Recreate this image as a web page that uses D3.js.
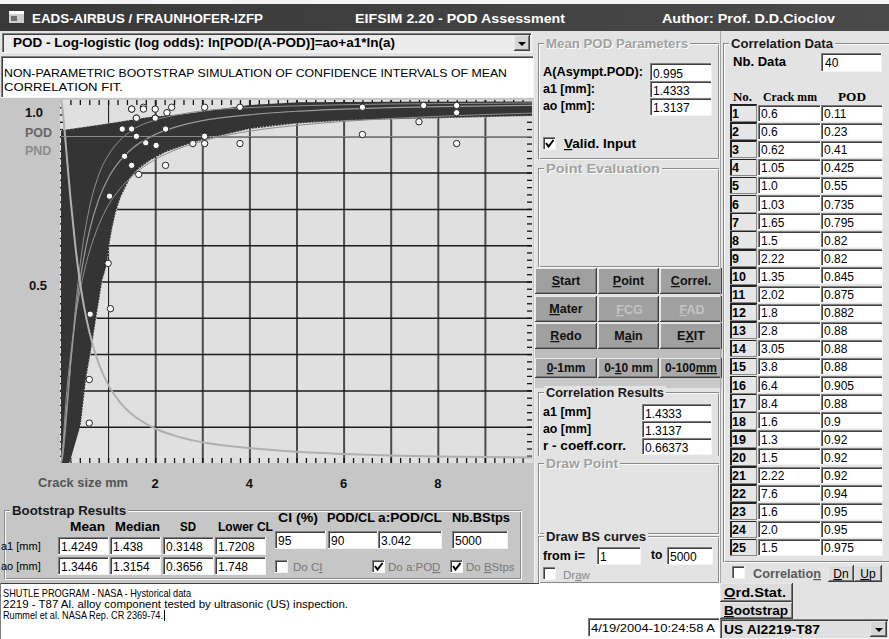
<!DOCTYPE html>
<html><head><meta charset="utf-8">
<script src="https://cdn.jsdelivr.net/npm/d3@7"></script>
<style>body{margin:0;background:#e3e3e3;} svg{display:block;}</style>
</head><body>
<svg id="c" width="889" height="639"></svg>
<script>
// ---------------- DATA ----------------
const crackMM = [0.6,0.6,0.62,1.05,1.0,1.03,1.65,1.5,2.22,1.35,2.02,1.8,2.8,3.05,3.8,6.4,8.4,1.6,1.3,1.5,2.22,7.6,1.6,2.0,1.5,
                 1.75,1.75,2.0,2.25,2.35,3.05,3.8,3.05,6.4,7.7,8.4,8.4,1.5,1.6,2.0];
const podObs  = [0.11,0.23,0.41,0.425,0.55,0.735,0.795,0.82,0.82,0.845,0.875,0.882,0.88,0.88,0.88,0.905,0.88,0.9,0.92,0.92,0.92,0.94,0.95,0.95,0.975,
                 0.98,0.975,0.975,0.965,0.98,0.98,0.98,0.9,0.98,0.985,0.985,0.965,0.975,0.95,0.95];
const crackTxt = ["0.6","0.6","0.62","1.05","1.0","1.03","1.65","1.5","2.22","1.35","2.02","1.8","2.8","3.05","3.8","6.4","8.4","1.6","1.3","1.5","2.22","7.6","1.6","2.0","1.5"];
const podTxt   = ["0.11","0.23","0.41","0.425","0.55","0.735","0.795","0.82","0.82","0.845","0.875","0.882","0.88","0.88","0.88","0.905","0.88","0.9","0.92","0.92","0.92","0.94","0.95","0.95","0.975"];

// bootstrap band envelope
const bandUpperA   = [0, 0.45, 1.17, 1.87, 2.57, 2.94, 4.0, 5.06, 7.0, 10];
const bandUpperPOD = [0.917, 0.925, 0.939, 0.953, 0.961, 0.967, 0.986, 0.994, 0.995, 0.996];
const bandLowerA   = [0.18, 0.42, 0.53, 0.65, 0.76, 0.88, 0.98, 1.02, 1.08, 1.16, 1.27, 1.45, 1.62, 1.91, 2.23, 2.65, 3.0, 3.5, 4.0, 5.0, 6.0, 7.0, 8.0, 10];
const bandLowerPOD = [0, 0.107, 0.229, 0.32, 0.41, 0.504, 0.551, 0.595, 0.642, 0.689, 0.733, 0.78, 0.807, 0.835, 0.857, 0.876, 0.89, 0.905, 0.92, 0.935, 0.943, 0.947, 0.95, 0.956];

// curves
const curveA     = [0, 0.02, 0.05, 0.1, 0.2, 0.3, 0.4, 0.5, 0.6, 0.8, 1, 1.25, 1.5, 2, 2.5, 3, 4, 5, 6, 7, 8, 10];
const meanPOD    = [0, 0.013, 0.048, 0.120, 0.269, 0.396, 0.500, 0.576, 0.638, 0.726, 0.784, 0.832, 0.865, 0.905, 0.928, 0.943, 0.959, 0.969, 0.975, 0.979, 0.982, 0.985];
const pndPOD     = [1, 0.987, 0.952, 0.880, 0.731, 0.604, 0.500, 0.424, 0.362, 0.274, 0.216, 0.168, 0.135, 0.095, 0.072, 0.057, 0.041, 0.031, 0.025, 0.021, 0.018, 0.015];
const upperCLPOD = [0, 0.005, 0.030, 0.098, 0.263, 0.418, 0.540, 0.632, 0.701, 0.793, 0.847, 0.889, 0.916, 0.945, 0.960, 0.970, 0.979, 0.984, 0.987, 0.989, 0.990, 0.992];
const lowerCLPOD = [0, 0.022, 0.066, 0.163, 0.294, 0.394, 0.471, 0.532, 0.581, 0.655, 0.709, 0.755, 0.789, 0.836, 0.866, 0.887, 0.914, 0.930, 0.941, 0.949, 0.955, 0.964];

const xTickLabels = [2, 4, 6, 8];
const yTickLabels = ["1.0", "0.5"];

// ---------------- HELPERS ----------------
const svg = d3.select("#c");
const FF = "Liberation Sans, Arial, sans-serif";
function R(x,y,w,h,fill,stroke,sw){return svg.append("rect").attr("x",x).attr("y",y).attr("width",w).attr("height",h)
  .attr("fill",fill||"none").attr("stroke",stroke||"none").attr("stroke-width",sw||1).attr("shape-rendering","crispEdges");}
function L(x1,y1,x2,y2,c,sw){return svg.append("line").attr("x1",x1).attr("y1",y1).attr("x2",x2).attr("y2",y2)
  .attr("stroke",c).attr("stroke-width",sw||1).attr("shape-rendering","crispEdges");}
function T(x,y,s,o){o=o||{};
  const t=svg.append("text").attr("x",x).attr("y",y).attr("font-family",o.ff||FF).attr("font-size",o.fs||12)
   .attr("font-weight",o.fw||"normal").attr("fill",o.fill||"#000");
  if(o.anchor) t.attr("text-anchor",o.anchor);
  if(Array.isArray(s)){ s.forEach(p=>{const ts=t.append("tspan").text(p[0]); if(p[1]) ts.attr("text-decoration","underline");}); }
  else t.text(s);
  if(o.len) t.attr("textLength",o.len).attr("lengthAdjust","spacingAndGlyphs");
  return t;}
function sunken(x,y,w,h,fill){R(x,y,w,h,fill||"#fff");
  L(x,y+0.5,x+w,y+0.5,"#808080");L(x+0.5,y,x+0.5,y+h,"#808080");
  L(x+1,y+1.5,x+w-1,y+1.5,"#404040");L(x+1.5,y+1,x+1.5,y+h-1,"#404040");
  L(x,y+h-0.5,x+w,y+h-0.5,"#f4f4f4");L(x+w-0.5,y,x+w-0.5,y+h,"#f4f4f4");}
function raised(x,y,w,h,fill){R(x,y,w,h,fill||"#a0a0a0");
  L(x,y+0.5,x+w,y+0.5,"#e8e8e8");L(x+0.5,y,x+0.5,y+h,"#e8e8e8");
  L(x,y+h-0.5,x+w,y+h-0.5,"#404040");L(x+w-0.5,y,x+w-0.5,y+h,"#404040");
  L(x+1,y+h-1.5,x+w-1,y+h-1.5,"#7a7a7a");L(x+w-1.5,y+1,x+w-1.5,y+h-1,"#7a7a7a");}
function group(x,y,w,h,title,tw,bold,bg){
  R(x+0.5,y+0.5,w,h,"none","#8a8a8a");R(x+1.5,y+1.5,w,h,"none","#fafafa");
  R(x+6,y-6,tw,12,bg||"#e3e3e3");
  if(bold) T(x+8,y+5,title,{fw:"bold",fs:12.5,fill:"#1a1a1a",len:tw-4});
  else {T(x+9,y+6,title,{fw:"bold",fs:12.5,fill:"#ffffff",len:tw-4});T(x+8,y+5,title,{fw:"bold",fs:12.5,fill:"#a2a2a2",len:tw-4});}
}
function checkbox(x,y,checked){sunken(x,y,13,13,"#fff");
  if(checked) svg.append("path").attr("d",`M${x+3},${y+6} L${x+5.5},${y+9.5} L${x+10.5},${y+3}`).attr("fill","none").attr("stroke","#000").attr("stroke-width",2);}

// ---------------- WINDOW CHROME ----------------
R(0,0,889,639,"#e3e3e3");
R(0,0,889,4,"#f4f4f4");
const grad=svg.append("defs").append("linearGradient").attr("id","tb");
grad.append("stop").attr("offset","0").attr("stop-color","#383838");
grad.append("stop").attr("offset","1").attr("stop-color","#4a4a4a");
R(0,4,889,27,"url(#tb)");
R(9,11,15,12,"#cfcfcf");R(9,11,15,3,"#ffffff");R(11,16,6,5,"#707070");
T(32,23,"EADS-AIRBUS / FRAUNHOFER-IZFP",{fw:"bold",fs:13.5,fill:"#fff",len:231});
T(355,23,"EIFSIM 2.20  - POD Assessment",{fw:"bold",fs:13.5,fill:"#fff",len:210});
T(662,23,"Author: Prof. D.D.Cioclov",{fw:"bold",fs:13.5,fill:"#fff",len:173});

// dropdown row
sunken(2,33,530,20,"#ececec");
T(13,47,"POD  - Log-logistic (log odds): ln[POD/(A-POD)]=ao+a1*ln(a)",{fw:"bold",fs:12,len:382});
raised(514,35,16,16,"#d6d6d6");
svg.append("path").attr("d","M518,42 L526,42 L522,46 Z").attr("fill","#000");
// description box
sunken(1,56,533,42,"#fff");
T(4,77,"NON-PARAMETRIC BOOTSTRAP SIMULATION OF CONFIDENCE INTERVALS OF MEAN",{fs:11.5,len:503});
T(4,91,"CORRELATION FIT.",{fs:11.5,len:119});

// ---------------- PLOT FRAME ----------------
R(0,98,534,485,"#c6c6c6");
const px0=61, px1=532, py0=463, py1=100;
const x=d3.scaleLinear().domain([0,10]).range([px0,px1]);
const y=d3.scaleLinear().domain([0,1]).range([py0,py1]);
R(60,100,473,363,"#e0e0e0");

// grid via axes
const gx=svg.append("g").attr("transform",`translate(0,${py0})`)
 .call(d3.axisBottom(x).tickValues(d3.range(1,10)).tickSize(-(py0-py1)).tickFormat(""));
gx.select(".domain").remove();
gx.selectAll(".tick line").attr("stroke",d=>d===1?"#111":"#4c4c4c").attr("stroke-width",d=>d===1?1:2);
const gy=svg.append("g").attr("transform",`translate(${px0-1},0)`)
 .call(d3.axisRight(y).tickValues(d3.range(1,10).map(i=>i/10)).tickSize(px1-px0+1).tickFormat(""));
gy.select(".domain").remove();
gy.selectAll(".tick line").attr("stroke","#1c1c1c").attr("stroke-width",1.5);

// minor ticks
const minorX=d3.range(1,50).map(i=>i*0.2);
const minorY=d3.range(1,50).map(i=>i*0.02);
function styleTicks(g){g.select(".domain").remove();g.selectAll(".tick line").attr("stroke","#111").attr("stroke-width",1.3);}
svg.append("g").attr("transform",`translate(0,${py1})`).call(d3.axisBottom(x).tickValues(minorX).tickSize(5).tickFormat("")).call(styleTicks);
svg.append("g").attr("transform",`translate(0,${py0})`).call(d3.axisTop(x).tickValues(minorX).tickSize(5).tickFormat("")).call(styleTicks);
svg.append("g").attr("transform",`translate(${px1},0)`).call(d3.axisLeft(y).tickValues(minorY).tickSize(5).tickFormat("")).call(styleTicks);
svg.append("g").attr("transform",`translate(${px0-1},0)`).call(d3.axisRight(y).tickValues(minorY).tickSize(3).tickFormat("")).call(styleTicks);

// bootstrap band
const upperPts=bandUpperA.map((a,i)=>[a,bandUpperPOD[i]]);
const lowerPts=bandLowerA.map((a,i)=>[a,bandLowerPOD[i]]);
const bandPts=[[0,0]].concat(upperPts, lowerPts.slice().reverse());
const lineGen=d3.line().x(d=>x(d[0])).y(d=>y(d[1]));
svg.append("path").attr("d",lineGen(bandPts)+"Z").attr("fill","#343434");
svg.append("path").attr("d",d3.line().x(d=>x(d[0])).y(d=>y(d[1])).curve(d3.curveMonotoneX)(lowerPts))
  .attr("fill","none").attr("stroke","#d8d8d8").attr("stroke-width",1.2).attr("stroke-dasharray","1,2");
svg.append("path").attr("d",d3.line().x(d=>x(d[0])).y(d=>y(d[1])).curve(d3.curveMonotoneX)(upperPts.slice(0,5)))
  .attr("fill","none").attr("stroke","#cfcfcf").attr("stroke-width",1).attr("stroke-dasharray","1,3");

// model curves
const cl=d3.line().x(d=>x(d[0])).y(d=>y(d[1])).curve(d3.curveMonotoneX);
function curve(vals,c,w){svg.append("path").attr("d",cl(curveA.map((a,i)=>[a,vals[i]]))).attr("fill","none").attr("stroke",c).attr("stroke-width",w);}
curve(upperCLPOD,"#8e8e8e",1);
curve(lowerCLPOD,"#8e8e8e",1);
curve(meanPOD,"#9a9a9a",1.2);
curve(pndPOD,"#b0b0b0",2);
// POD/CL line at 0.9
L(px0,y(0.9),px1,y(0.9),"#8a8a8a",1.5);

// observations
svg.append("g").selectAll("circle").data(crackMM.map((a,i)=>[a,podObs[i]])).join("circle")
 .attr("cx",d=>x(d[0])).attr("cy",d=>y(d[1])).attr("r",3.2).attr("fill","#fff").attr("stroke","#222").attr("stroke-width",1);

// left labels
T(25,117,yTickLabels[0],{fw:"bold",fs:13,fill:"#111"});
T(25,137,"POD",{fw:"bold",fs:12.5,fill:"#666"});
T(25,155,"PND",{fw:"bold",fs:12.5,fill:"#8c8c8c"});
T(29,290,yTickLabels[1],{fw:"bold",fs:13,fill:"#111"});
T(38,487,"Crack size mm",{fw:"bold",fs:12,fill:"#555",len:90});
xTickLabels.forEach(v=>T(x(v),488,String(v),{fw:"bold",fs:13,fill:"#111",anchor:"middle"}));

// ---------------- BOOTSTRAP RESULTS ----------------
group(4,510,516,68,"Bootstrap Results",118,true,"#c6c6c6");
T(70,531,"Mean",{fw:"bold",fs:12.5,len:35});
T(115,531,"Median",{fw:"bold",fs:12.5,len:45});
T(180,531,"SD",{fw:"bold",fs:12.5,len:16});
T(218,531,"Lower CL",{fw:"bold",fs:12.5,len:55});
T(278,522,"CI (%)",{fw:"bold",fs:12.5,len:40});
T(327,522,"POD/CL",{fw:"bold",fs:12.5,len:48});
T(378,522,"a:POD/CL",{fw:"bold",fs:12.5,len:64});
T(452,522,"Nb.BStps",{fw:"bold",fs:12.5,len:58});
T(1,550,"a1 [mm]",{fs:11});
T(1,570,"ao [mm]",{fs:11});
const bsA1=["1.4249","1.438","0.3148","1.7208"], bsAo=["1.3446","1.3154","0.3656","1.748"];
const bsX=[58,110,163,215];
bsX.forEach((bx,i)=>{sunken(bx,537,51,18);T(bx+3,551,bsA1[i],{fs:12});sunken(bx,557,51,18);T(bx+3,571,bsAo[i],{fs:12});});
const ciVals=["95","90","3.042","5000"], ciX=[275,328,378,452], ciW=[51,50,64,56];
ciX.forEach((cx,i)=>{sunken(cx,531,ciW[i],18);T(cx+3,545,ciVals[i],{fs:12});});
checkbox(275,560,false); T(293,571,[["Do C"],["I",true]],{fs:11.5,fill:"#777"});
checkbox(372,560,true); T(388,571,[["Do a:PO"],["D",true]],{fs:11.5,fill:"#777"});
checkbox(450,560,true); T(466,571,[["Do "],["B",true],["Stps"]],{fs:11.5,fill:"#777"});

// bottom text box
R(0,583,720,56,"#fff"); L(0,583.5,720,583.5,"#404040"); L(0.5,583,0.5,639,"#808080");
T(3,597,"SHUTLE PROGRAM - NASA - Hystorical data",{fs:11,len:188});
T(3,608,"2219 - T87 Al. alloy component tested by ultrasonic (US) inspection.",{fs:11,len:345});
T(3,619,"Rummel et al. NASA Rep. CR 2369-74.",{fs:11,len:160});
L(164.5,610,164.5,621,"#000");
sunken(588,618,132,19,"#fff"); T(591,632,"4/19/2004-10:24:58 A",{fs:11.5,len:124});

// ---------------- MIDDLE PANEL ----------------
L(534.5,98,534.5,583,"#f2f2f2");
group(538,43,180,115,"Mean POD Parameters",146,false);
T(543,76,"A(Asympt.POD):",{fw:"bold",fs:12,len:100});
T(543,93,"a1 [mm]:",{fw:"bold",fs:12,len:52});
T(543,110,"ao [mm]:",{fw:"bold",fs:12,len:52});
sunken(650,63,62,18);T(653,78,"0.995",{fs:12});
sunken(650,81,62,17);T(653,95,"1.4333",{fs:12});
sunken(650,98,62,18);T(653,112,"1.3137",{fs:12});
checkbox(543,137,true); T(564,148,[["V",true],["alid. Input"]],{fw:"bold",fs:12,len:72});

group(538,168,180,98,"Point Evaluation",118,false);

const btnRows=[[268,26],[296,26],[323,26]];
const btnCols=[[535,62],[598,61],[660,62]];
const btnLabels=[[[["S",1],["tart"]],[["P",1],["oint"]],[["C",1],["orrel."]]],
                 [[["M",1],["ater"]],[["F",1],["CG"]],[["F",1],["AD"]]],
                 [[["R",1],["edo"]],[["M"],["a",1],["in"]],[["E"],["X",1],["IT"]]]];
btnRows.forEach((r,ri)=>btnCols.forEach((c,ci)=>{
  raised(c[0],r[0],c[1],r[1],"#a0a0a0");
  const dis = ri===1 && ci>0;
  if(dis) T(c[0]+c[1]/2+1,r[0]+18,btnLabels[ri][ci],{fw:"bold",fs:12.5,fill:"#c4c4c4",anchor:"middle"});
  else T(c[0]+c[1]/2,r[0]+17,btnLabels[ri][ci],{fw:"bold",fs:12.5,fill:"#111",anchor:"middle"});
}));
R(535,349,187,9,"#bdbdbd");
const zoomLabels=[[["0",1],["-1mm"]],[["0-"],["1",1],["0 mm"]],[["0-100"],["mm",1]]];
btnCols.forEach((c,ci)=>{raised(c[0],358,c[1],20,"#a8a8a8");T(c[0]+c[1]/2,372,zoomLabels[ci],{fw:"bold",fs:12,fill:"#111",anchor:"middle"});});
R(535,378,187,10,"#c9c9c9");

group(538,392,180,66,"Correlation Results",122,true);
T(543,416,"a1 [mm]",{fw:"bold",fs:12,len:48});
T(543,433,"ao [mm]",{fw:"bold",fs:12,len:48});
T(543,450,"r - coeff.corr.",{fw:"bold",fs:12,len:83});
sunken(642,404,70,17);T(645,418,"1.4333",{fs:12});
sunken(642,421,70,17);T(645,435,"1.3137",{fs:12});
sunken(642,438,70,17);T(645,452,"0.66373",{fs:12});
R(536,456,184,5,"#e3e3e3");

group(538,463,180,70,"Draw Point",76,false);
group(538,536,180,46,"Draw BS curves",104,true);
T(543,560,"from i=",{fw:"bold",fs:12,len:42});
sunken(597,547,44,18);T(600,561,"1",{fs:12});
T(651,559,"to",{fw:"bold",fs:12});
sunken(667,547,46,18);T(670,561,"5000",{fs:12});
checkbox(543,567,false); T(563,579,[["Dr"],["a",1],["w"]],{fs:11.5,fill:"#888"});

// ---------------- RIGHT PANEL ----------------
L(720.5,31,720.5,583,"#a8a8a8");
group(723,43,170,518,"Correlation Data",106,true);
T(733,66,"Nb. Data",{fw:"bold",fs:12.5,len:53});
sunken(821,53,61,19);T(825,67,"40",{fs:12});
const SF="Liberation Serif, Times New Roman, serif";
T(733,101,"No.",{fw:"bold",fs:12,ff:SF,len:19});
T(763,101,"Crack mm",{fw:"bold",fs:12,ff:SF,len:54});
T(838,101,"POD",{fw:"bold",fs:12,ff:SF,len:28});
crackTxt.forEach((c,i)=>{
  const yc=113+i*18.1;
  R(730,yc-8.5,27,17,"#e6e6e6");
  L(730,yc-8,757,yc-8,"#222",1.5);L(730.8,yc-8.5,730.8,yc+8.5,"#222",1.5);
  L(730,yc+8.5,757,yc+8.5,"#888");L(756.5,yc-8.5,756.5,yc+8.5,"#888");
  T(732,yc+5,String(i+1),{fw:"bold",fs:12.5});
  sunken(758,yc-8.5,63,17);T(761,yc+5,c,{fs:12});
  sunken(821,yc-8.5,62,17);T(824,yc+5,podTxt[i],{fs:12});
});
checkbox(732,566,false);
T(753,578,[["Correlatio"],["n",1]],{fw:"bold",fs:12.5,fill:"#5a5a5a",len:68});
raised(828,565,26,17,"#dcdcdc");T(841,578,[["D",1],["n"]],{fs:12,anchor:"middle"});
raised(854,565,28,17,"#dcdcdc");T(868,578,[["U",1],["p"]],{fs:12,anchor:"middle"});
raised(720,583,73,19,"#dcdcdc");T(724,597,[["O",1],["rd.Stat."]],{fw:"bold",fs:12,len:62});
raised(720,602,73,17,"#dcdcdc");T(724,615,[["B",1],["ootstrap"]],{fw:"bold",fs:12,len:64});
sunken(720,619,169,20,"#e0e0e0");
T(724,634,"US Al2219-T87",{fw:"bold",fs:12.5,len:96});
raised(870,621,17,16,"#d6d6d6");
svg.append("path").attr("d","M875,628 L883,628 L879,632 Z").attr("fill","#000");
</script>
</body></html>
